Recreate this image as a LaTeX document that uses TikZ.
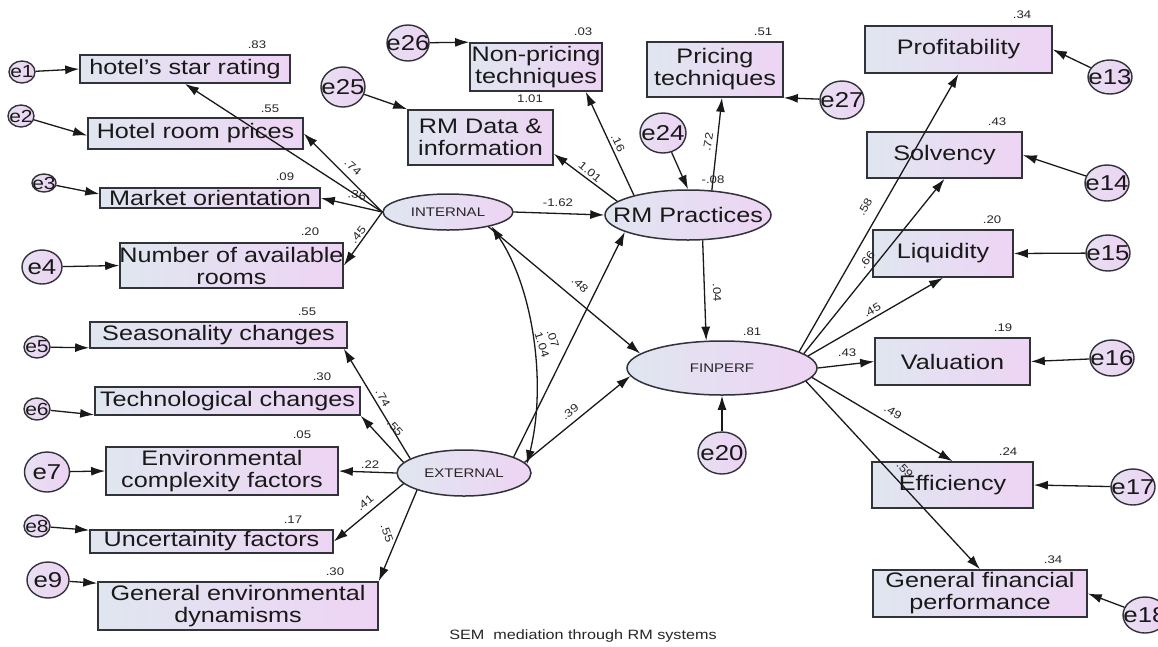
\documentclass[tikz,border=0pt]{standalone}
\usepackage{fontspec}
\setmainfont[FakeStretch=1.2]{Liberation Sans}
\usetikzlibrary{arrows.meta,shapes.geometric}
\definecolor{lc}{RGB}{224,230,240}
\definecolor{rc}{RGB}{238,212,244}
\definecolor{ecl}{RGB}{232,224,242}
\definecolor{ecr}{RGB}{236,210,243}
\definecolor{bc}{RGB}{50,50,58}
\newcommand\fsBig{\fontsize{21}{22}\selectfont}
\newcommand\fsErr{\fontsize{21.5}{22}\selectfont}
\newcommand\fsErs{\fontsize{17.5}{18}\selectfont}
\newcommand\fsLat{\fontsize{12.5}{13}\selectfont}
\newcommand\fsSml{\fontsize{11}{12}\selectfont}
\newcommand\fsCap{\fontsize{13.5}{14}\selectfont}
\begin{document}
\begin{tikzpicture}[x=1pt,y=-1pt,
  box/.style={rectangle,draw=bc,line width=1.6pt,left color=lc,right color=rc,inner sep=0pt},
  lat/.style={ellipse,draw=bc,line width=1.5pt,left color=lc,right color=rc,inner sep=0pt},
  err/.style={ellipse,draw=bc,line width=1.4pt,left color=ecl,right color=ecr,inner sep=0pt},
  bt/.style={font=\fsBig,align=center,inner sep=0pt,text=black!90},
  et/.style={font=\fsErr,inner sep=0pt,text=black!90},
  es/.style={font=\fsErs,inner sep=0pt,text=black!90},
  lt/.style={font=\fsLat,inner sep=0pt,text=black!85},
  sm/.style={font=\fsSml,inner sep=0pt,text=black!85},
  arr/.style={-{Latex[length=14pt,width=9pt]},draw=black!90,line width=1.3pt},
  darr/.style={{Latex[length=14pt,width=9pt]}-{Latex[length=14pt,width=9pt]},draw=black!90,line width=1.3pt}]
\fill[white] (0,0) rectangle (1158,646);
\useasboundingbox (0,0) rectangle (1158,646);
\clip (0,0) rectangle (1158,646);

% ---------- latent variables ----------
\node[lat,minimum width=130pt,minimum height=36pt,label={[lt]center:INTERNAL}] (internal) at (448,212) {};
\node[lat,minimum width=166pt,minimum height=50pt,label={[bt]center:RM Practices}] (rmp) at (688,215) {};
\node[lat,minimum width=190pt,minimum height=54pt,label={[lt]center:FINPERF}] (finperf) at (722,368) {};
\node[lat,minimum width=134pt,minimum height=46pt,label={[lt]center:EXTERNAL}] (external) at (464,473) {};

% ---------- observed variables (left, internal) ----------
\node[box,minimum width=210pt,minimum height=28pt,label={[bt]center:hotel’s star rating}] (star) at (185,69) {};
\node[box,minimum width=215pt,minimum height=31pt,label={[bt]center:Hotel room prices}] (hrp) at (195.5,133.5) {};
\node[box,minimum width=220pt,minimum height=20pt,label={[bt]center:Market orientation}] (mo) at (210,198) {};
\node[box,minimum width=223pt,minimum height=45pt,label={[bt]center:{Number of available\\rooms}}] (nar) at (231.5,265.5) {};

% ---------- observed variables (left, external) ----------
\node[box,minimum width=257pt,minimum height=26pt,label={[bt]center:Seasonality changes}] (seas) at (218.5,335) {};
\node[box,minimum width=265pt,minimum height=28pt,label={[bt]center:Technological changes}] (tech) at (227.5,401) {};
\node[box,minimum width=232pt,minimum height=48pt,label={[bt]center:{Environmental\\complexity factors}}] (env) at (222,471) {};
\node[box,minimum width=243pt,minimum height=23pt,label={[bt]center:Uncertainity factors}] (unc) at (211.5,541.5) {};
\node[box,minimum width=280pt,minimum height=48pt,label={[bt]center:{General environmental\\dynamisms}}] (gen) at (238,606) {};

% ---------- RM indicators ----------
\node[box,minimum width=132pt,minimum height=48pt,label={[bt]center:{Non-pricing\\techniques}}] (nonpr) at (536,67) {};
\node[box,minimum width=145pt,minimum height=55pt,label={[bt]center:{RM Data \&\\information}}] (rmdata) at (480.5,137.5) {};
\node[box,minimum width=136pt,minimum height=55pt,label={[bt]center:{Pricing\\techniques}}] (pricing) at (715,69.5) {};

% ---------- financial indicators ----------
\node[box,minimum width=187pt,minimum height=47pt,label={[bt]center:Profitability}] (prof) at (958.5,49.5) {};
\node[box,minimum width=155pt,minimum height=46pt,label={[bt]center:Solvency}] (solv) at (944.5,155) {};
\node[box,minimum width=140pt,minimum height=47pt,label={[bt]center:Liquidity}] (liq) at (943,253.5) {};
\node[box,minimum width=155pt,minimum height=47pt,label={[bt]center:Valuation}] (val) at (952.5,361.5) {};
\node[box,minimum width=161pt,minimum height=46pt,label={[bt]center:Efficiency}] (eff) at (952.5,485) {};
\node[box,minimum width=214pt,minimum height=47pt,label={[bt]center:{General financial\\performance}}] (gfp) at (980,593.5) {};

% ---------- error terms ----------
\node[err,minimum width=26pt,minimum height=22pt,label={[es]center:e1}] (e1) at (22,72) {};
\node[err,minimum width=26pt,minimum height=22pt,label={[es]center:e2}] (e2) at (21,116) {};
\node[err,minimum width=24pt,minimum height=18pt,label={[es]center:e3}] (e3) at (44,183) {};
\node[err,minimum width=40pt,minimum height=34pt,label={[et]center:e4}] (e4) at (42,267) {};
\node[err,minimum width=26pt,minimum height=22pt,label={[es]center:e5}] (e5) at (37,347) {};
\node[err,minimum width=26pt,minimum height=22pt,label={[es]center:e6}] (e6) at (37,409) {};
\node[err,minimum width=45pt,minimum height=40pt,label={[et]center:e7}] (e7) at (47,472) {};
\node[err,minimum width=26pt,minimum height=22pt,label={[es]center:e8}] (e8) at (37,526) {};
\node[err,minimum width=42pt,minimum height=36pt,label={[et]center:e9}] (e9) at (48,580) {};
\node[err,minimum width=44pt,minimum height=40pt,label={[et]center:e25}] (e25) at (343,87) {};
\node[err,minimum width=42pt,minimum height=36pt,label={[et]center:e26}] (e26) at (408,43) {};
\node[err,minimum width=46pt,minimum height=40pt,label={[et]center:e24}] (e24) at (663,133) {};
\node[err,minimum width=44pt,minimum height=38pt,label={[et]center:e27}] (e27) at (842,100) {};
\node[err,minimum width=44pt,minimum height=34pt,label={[et]center:e13}] (e13) at (1110,77) {};
\node[err,minimum width=44pt,minimum height=36pt,label={[et]center:e14}] (e14) at (1107,183) {};
\node[err,minimum width=44pt,minimum height=36pt,label={[et]center:e15}] (e15) at (1108,253) {};
\node[err,minimum width=44pt,minimum height=36pt,label={[et]center:e16}] (e16) at (1112,358) {};
\node[err,minimum width=44pt,minimum height=36pt,label={[et]center:e17}] (e17) at (1133,487) {};
\node[err,minimum width=44pt,minimum height=36pt,label={[et]center:e18}] (e18) at (1145,615) {};
\node[err,minimum width=48pt,minimum height=42pt,label={[et]center:e20}] (e20) at (722,453) {};

% ---------- error arrows ----------
\draw[arr] (e1) -- (star.west);
\draw[arr] (e2) -- ([yshift=-2pt]hrp.west);
\draw[arr] (e3) -- ([yshift=4pt]mo.west);
\draw[arr] (e4) -- (nar.west);
\draw[arr] (e5) -- ([yshift=1pt]seas.south west);
\draw[arr] (e6) -- ([yshift=1pt]tech.south west);
\draw[arr] (e7) -- (env.west);
\draw[arr] (e8) -- ([yshift=-1pt]unc.north west);
\draw[arr] (e9) -- ([yshift=-2pt]gen.north west);
\draw[arr] (e25) -- (rmdata.north west);
\draw[arr] (e26) -- (nonpr.north west);
\draw[arr] (e27) -- (pricing.south east);
\draw[arr] (e24) -- (rmp.north);
\draw[arr] (e13) -- (prof.east);
\draw[arr] (e14) -- (solv.east);
\draw[arr] (e15) -- (liq.east);
\draw[arr] (e16) -- (val.east);
\draw[arr] (e17) -- (eff.east);
\draw[arr] (e18) -- (gfp.east);
\draw[arr] (e20) -- (finperf.south);

% ---------- loadings ----------
\draw[arr] (internal.west) -- (star.south);
\draw[arr] (internal.west) -- (hrp.east);
\draw[arr] (internal.west) -- (mo.east);
\draw[arr] (internal.west) -- (nar.east);
\draw[arr] (external.165) -- ([xshift=-4pt]seas.south east);
\draw[arr] (external.170) -- (tech.south east);
\draw[arr] (external.west) -- (env.east);
\draw[arr] (external.190) -- (unc.east);
\draw[arr] (external.200) -- (gen.north east);
\draw[arr] (rmp.169) -- ([yshift=12pt]rmdata.south east);
\draw[arr] (rmp.160) -- ([xshift=-17pt]nonpr.south east);
\draw[arr] (rmp.46) -- ([xshift=7pt]pricing.south);
\draw[arr] (finperf.12) -- (prof.south);
\draw[arr] (finperf.10) -- (solv.south);
\draw[arr] (finperf.8) -- (liq.south);
\draw[arr] (finperf.east) -- (val.west);
\draw[arr] (finperf.-6) -- (eff.north);
\draw[arr] (finperf.-9) -- (gfp.north);

% ---------- structural paths ----------
\draw[arr] (internal.east) -- (rmp.west);
\draw[arr] (internal.-20) -- (finperf.170);
\draw[arr] (external.18) -- (rmp.195);
\draw[arr] (external.10) -- (finperf.185);
\draw[arr] (rmp.-60) -- (finperf.120);
\draw[darr] (internal.-18) .. controls +(42,62) and +(20,-80) .. (external.8);

% ---------- squared multiple correlations ----------
\node[sm] (r1) at (257,45) {.83};
\node[sm] (r2) at (270,109) {.55};
\node[sm] (r3) at (285,177) {.09};
\node[sm] (r4) at (310,232) {.20};
\node[sm] (r5) at (583,32) {.03};
\node[sm] (r6) at (530,99) {1.01};
\node[sm] (r7) at (763,32) {.51};
\node[sm] (r8) at (713,180) {-.08};
\node[sm] (r9) at (1022,15) {.34};
\node[sm] (r10) at (997,122) {.43};
\node[sm] (r11) at (992,220) {.20};
\node[sm] (r12) at (1003,328) {.19};
\node[sm] (r13) at (1008,452) {.24};
\node[sm] (r14) at (1053,560) {.34};
\node[sm] (r15) at (752,332) {.81};
\node[sm] (r16) at (307,312) {.55};
\node[sm] (r17) at (322,377) {.30};
\node[sm] (r18) at (302,435) {.05};
\node[sm] (r19) at (293,520) {.17};
\node[sm] (r20) at (335,572) {.30};

% ---------- path coefficients ----------
\node[sm,rotate=-41] (p1) at (353,167) {.74};
\node[sm,rotate=-10] (p2) at (357,195) {.36};
\node[sm,rotate=51] (p3) at (358,235) {.45};
\node[sm] (p4) at (558,203) {-1.62};
\node[sm,rotate=-40] (p5) at (590,172) {1.01};
\node[sm,rotate=-65] (p6) at (618,143) {.16};
\node[sm,rotate=80] (p7) at (708,142) {.72};
\node[sm,rotate=-88] (p8) at (717,293) {.04};
\node[sm,rotate=-45] (p9) at (580,285) {.48};
\node[sm,rotate=38] (p10) at (570,412) {.39};
\node[sm,rotate=-72] (p11) at (553,339) {.07};
\node[sm,rotate=-72] (p12) at (542,345) {1.04};
\node[sm,rotate=60] (p13) at (865,207) {.58};
\node[sm,rotate=51] (p14) at (867,260) {.66};
\node[sm,rotate=31] (p15) at (872,310) {.45};
\node[sm] (p16) at (847,353) {.43};
\node[sm,rotate=-30] (p17) at (893,412) {.49};
\node[sm,rotate=-47] (p18) at (905,470) {.59};
\node[sm,rotate=-61] (p19) at (383,398) {.74};
\node[sm,rotate=-48] (p20) at (395,428) {.55};
\node[sm] (p21) at (370,465) {.22};
\node[sm,rotate=39] (p22) at (365,503) {.41};
\node[sm,rotate=-70] (p23) at (387,533) {.55};

% ---------- caption ----------
\node[font=\fsCap,text=black!85,inner sep=0pt] (cap) at (583,636) {SEM\ \ mediation through RM systems};
\end{tikzpicture}
\end{document}
